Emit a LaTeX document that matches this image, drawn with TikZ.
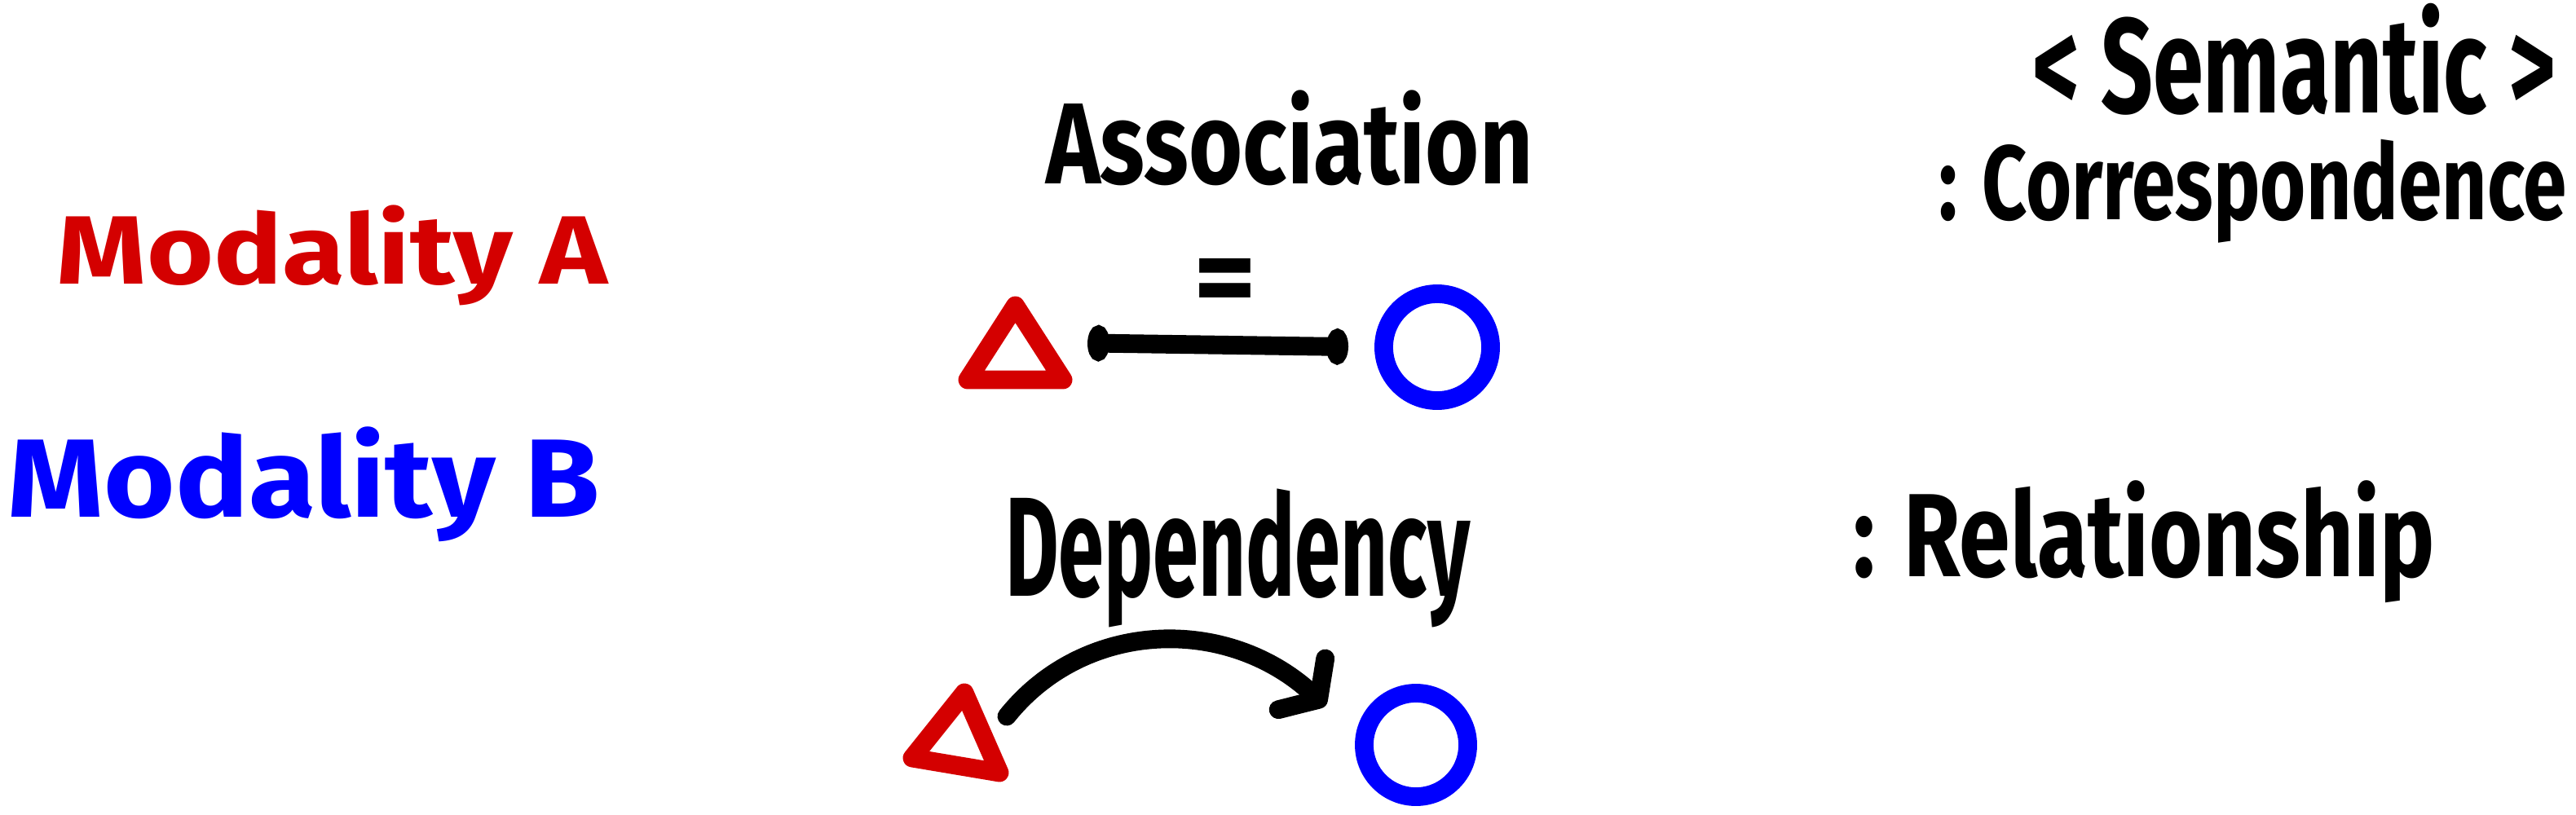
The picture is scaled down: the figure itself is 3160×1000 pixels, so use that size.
\documentclass[tikz,border=0pt]{standalone}
\usepackage{fontspec}
\setmainfont{Fira Sans}
\usepackage{graphicx}
\usetikzlibrary{arrows.meta}
\definecolor{mred}{RGB}{212,0,0}
\definecolor{mblue}{RGB}{0,0,255}
\newcommand{\fitxt}[3]{\resizebox*{#1}{#2}{\bfseries #3}}
\begin{document}
\begin{tikzpicture}[x=0.01cm,y=-0.01cm,
  lbl/.style={inner sep=0pt, outer sep=0pt, anchor=north west},
  pen/.style={line width=6.5pt, line cap=round, line join=round},
  ring/.style={circle, draw=mblue, line width=6.5pt, inner sep=0pt, minimum size=#1},
  trinode/.style={inner sep=0pt, outer sep=0pt, minimum width=1.17cm, minimum height=0.91cm}]
\useasboundingbox[fill=white] (0,0) rectangle (3160,1000);

% left labels
\node[lbl, text=mred] (modA) at (70,252) {\fitxt{6.75cm}{1.23cm}{Modality A}};
\node[lbl, text=mblue] (modB) at (10,524) {\fitxt{7.25cm}{1.41cm}{Modality B}};

% association
\node[lbl] (assoc) at (1283,111) {\fitxt{5.97cm}{1.17cm}{Association}};
\node[trinode] (triA) at (1245.5,420.5) {};
\draw[pen, mred] (triA.north) -- (triA.south east) -- (triA.south west) -- cycle;
\node[ring=1.31cm] (circA) at (1763,426) {};
\draw[pen, {Ellipse[length=0.27cm,width=0.44cm]}-{Ellipse[length=0.27cm,width=0.44cm]},
      shorten <=0.3cm, shorten >=0.32cm] (triA.east) -- (circA.west)
      node[pos=0.52, above=0.22cm, inner sep=0pt] (eq) {\resizebox{0.77cm}{0.72cm}{\bfseries =}};

% dependency
\node[lbl] (dep) at (1233,600) {\fitxt{5.70cm}{1.70cm}{Dependency}};
\coordinate (tBa) at (1183,850);
\coordinate (tBb) at (1119,930);
\coordinate (tBc) at (1226,948);
\draw[pen, mred] (tBa) -- (tBc) -- (tBb) -- cycle;
\node[ring=1.27cm] (circB) at (1737,914) {};
\coordinate (depS) at (1235,879);
\coordinate (depE) at (1626,866);
\draw[pen, -{Straight Barb[length=0.28cm,width=0.85cm,round]}]
  (depS) .. controls (1330,760) and (1505,755) .. (depE);

% right labels
\node[lbl] (sem) at (2493,4) {\fitxt{6.42cm}{1.37cm}{< Semantic >}};
\node[lbl] (corr) at (2378,171) {\fitxt{7.70cm}{1.27cm}{: Correspondence}};
\node[lbl] (rel) at (2273,590) {\fitxt{7.13cm}{1.50cm}{: Relationship}};
\end{tikzpicture}
\end{document}
